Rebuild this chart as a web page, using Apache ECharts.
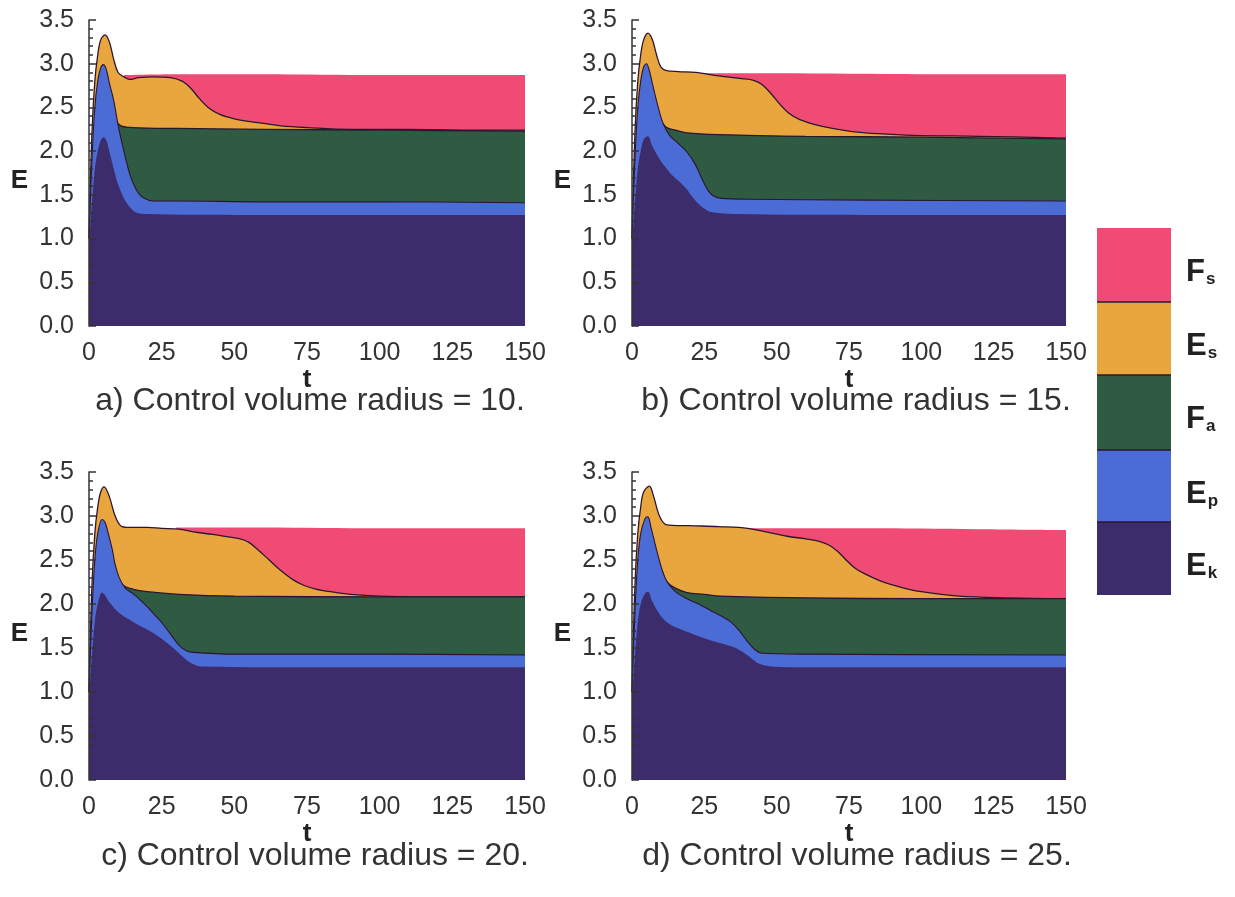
<!DOCTYPE html>
<html>
<head>
<meta charset="utf-8">
<script src="https://cdn.jsdelivr.net/npm/echarts@6/dist/echarts.min.js"></script>
<style>html,body{margin:0;padding:0;background:#fff}#c{width:1235px;height:897px}</style>
</head>
<body>
<div id="c"></div>
<script>
// Cumulative energy levels E(t) (top of each stacked band).
// Panel a) radius = 10
const a_Fs = [[12,2.87],[30,2.88],[60,2.88],[100,2.87],[150,2.87]];
const a_Es = [[0,1.0],[1,2.2],[2,2.8],[3,3.1],[4,3.27],[5.5,3.33],[7,3.25],[8.5,3.05],[10,2.9],[12,2.85],[14,2.82],[17,2.84],[22,2.85],[28,2.84],[32,2.8],[35,2.72],[38,2.6],[41,2.5],[45,2.42],[50,2.37],[57,2.33],[66,2.29],[75,2.27],[90,2.25],[110,2.25],[130,2.24],[150,2.24]];
const a_Fa = [[9,2.36],[11,2.29],[15,2.27],[30,2.26],[60,2.25],[100,2.24],[150,2.23]];
const a_Ep = [[0,1.0],[1,1.9],[2,2.5],[3,2.8],[4,2.95],[5,2.99],[6,2.93],[7,2.78],[8.5,2.58],[10,2.3],[12,2.0],[14,1.74],[15.5,1.61],[17,1.52],[19,1.46],[22,1.43],[30,1.43],[60,1.42],[100,1.42],[150,1.41]];
const a_Ek = [[0,0.9],[1,1.4],[2,1.8],[3,2.0],[4,2.12],[5,2.16],[6,2.12],[7,2.0],[8.5,1.8],[10,1.62],[12,1.46],[14,1.36],[16,1.3],[20,1.28],[50,1.27],[150,1.27]];
// Panel b) radius = 15
const b_Fs = [[22,2.89],[50,2.89],[100,2.88],[150,2.88]];
const b_Es = [[0,1.0],[1,2.2],[2,2.8],[3,3.1],[4,3.27],[5.5,3.35],[7,3.28],[8.5,3.1],[10,2.96],[12,2.92],[16,2.91],[22,2.9],[30,2.86],[38,2.83],[42,2.81],[45,2.76],[48,2.66],[51,2.54],[54,2.44],[58,2.36],[65,2.29],[75,2.23],[85,2.2],[97,2.18],[120,2.17],[150,2.15]];
const b_Fa = [[10,2.35],[12,2.27],[15,2.24],[19,2.21],[30,2.19],[60,2.17],[100,2.16],[150,2.14]];
const b_Ep = [[0,1.0],[1,1.9],[2,2.5],[3,2.8],[4,2.96],[5,3.0],[6,2.92],[7,2.78],[8.7,2.55],[10.7,2.32],[13,2.18],[15.6,2.1],[19,1.99],[22,1.84],[24.5,1.66],[26.5,1.54],[28.5,1.48],[31,1.46],[40,1.45],[80,1.44],[150,1.43]];
const b_Ek = [[0,0.9],[1,1.4],[2,1.8],[3,2.0],[4,2.13],[5.5,2.17],[7,2.06],[9.7,1.9],[12,1.8],[14,1.72],[17,1.63],[19,1.56],[21,1.47],[23.5,1.38],[26,1.32],[28,1.3],[35,1.28],[80,1.27],[150,1.27]];
// Panel c) radius = 20
const c_Fs = [[30,2.87],[60,2.87],[100,2.86],[150,2.86]];
const c_Es = [[0,1.0],[1,2.2],[2,2.8],[3,3.1],[4,3.27],[5.2,3.33],[7,3.22],[9,3.0],[11.4,2.88],[15,2.87],[20,2.87],[25,2.86],[31,2.85],[36,2.82],[42.6,2.79],[52,2.74],[55,2.7],[58,2.62],[62,2.5],[66,2.38],[70,2.28],[74,2.21],[78,2.17],[83,2.14],[90,2.11],[100,2.09],[120,2.08],[150,2.08]];
const c_Fa = [[10,2.3],[11.4,2.22],[15,2.17],[20,2.14],[31,2.11],[50,2.09],[100,2.08],[150,2.08]];
const c_Ep = [[0,1.0],[1,1.9],[2,2.5],[3,2.8],[4.5,2.96],[5.5,2.93],[6.5,2.82],[8,2.62],[9,2.45],[10.4,2.3],[12.5,2.18],[15,2.12],[17.5,2.05],[20,1.97],[22.5,1.88],[25,1.79],[28,1.66],[31,1.53],[33.5,1.47],[36,1.45],[50,1.43],[100,1.43],[150,1.42]];
const c_Ek = [[0,0.9],[1,1.4],[2,1.8],[3,2.0],[4.5,2.13],[5.5,2.1],[7,2.02],[10,1.91],[14,1.82],[17,1.76],[20,1.71],[23,1.65],[26,1.58],[29,1.5],[32,1.41],[35,1.33],[39,1.29],[80,1.28],[150,1.28]];
// Panel d) radius = 25
const d_Fs = [[38,2.86],[80,2.86],[120,2.85],[150,2.84]];
const d_Es = [[0,1.0],[1,2.2],[2,2.8],[3,3.1],[4,3.27],[6,3.34],[7.5,3.22],[9.5,3.0],[12,2.9],[20,2.89],[30,2.88],[40,2.86],[53.6,2.77],[60,2.74],[65,2.71],[68,2.67],[71,2.6],[74,2.5],[77,2.41],[80,2.35],[86,2.26],[93,2.19],[100,2.14],[113,2.09],[130,2.07],[150,2.06]];
const d_Fa = [[10,2.35],[12,2.25],[15,2.18],[19,2.13],[25,2.11],[30.5,2.09],[60,2.07],[100,2.06],[150,2.06]];
const d_Ep = [[0,1.0],[1,1.9],[2,2.5],[3,2.8],[4.5,2.97],[5.5,2.99],[6.5,2.88],[8.7,2.59],[10.5,2.38],[12,2.26],[15,2.14],[19,2.06],[23,2.0],[27,1.93],[31,1.86],[34,1.8],[37,1.7],[40,1.57],[42.5,1.48],[45,1.44],[60,1.43],[150,1.42]];
const d_Ek = [[0,0.9],[1,1.4],[2,1.8],[3,2.0],[4.5,2.12],[5.5,2.14],[7,2.03],[10,1.86],[13,1.77],[17,1.71],[21,1.66],[26,1.6],[31,1.55],[35,1.51],[38,1.46],[41,1.39],[44,1.32],[48,1.29],[60,1.28],[150,1.28]];

const components = ['Fs','Es','Fa','Ep','Ek'];
const captions = ['a) Control volume radius = 10.','b) Control volume radius = 15.','c) Control volume radius = 20.','d) Control volume radius = 25.'];

const panelData = [
  {Fs:a_Fs,Es:a_Es,Fa:a_Fa,Ep:a_Ep,Ek:a_Ek},
  {Fs:b_Fs,Es:b_Es,Fa:b_Fa,Ep:b_Ep,Ek:b_Ek},
  {Fs:c_Fs,Es:c_Es,Fa:c_Fa,Ep:c_Ep,Ek:c_Ek},
  {Fs:d_Fs,Es:d_Es,Fa:d_Fa,Ep:d_Ep,Ek:d_Ek}
];

const colors = {Fs:'#ef4b75', Es:'#eaa63e', Fa:'#2f5b42', Ep:'#4b6bd5', Ek:'#3d2c6b'};
const edgeW = {Fs:0, Es:1.3, Fa:1.3, Ep:1.1, Ek:0};
const edgeColor = '#2b1632';
const FONT = '"Liberation Sans", Arial, sans-serif';

const grids = [
  {left:89, top:20, width:436, height:306},
  {left:632, top:20, width:434, height:306},
  {left:89, top:472, width:436, height:308},
  {left:632, top:472, width:434, height:308}
];
const captionPos = [[310,401],[856,401],[315,856],[857,856]];

const xAxes = [], yAxes = [], series = [], graphics = [];
grids.forEach((g, i) => {
  xAxes.push({
    type:'value', gridIndex:i, min:0, max:150, interval:25,
    name:'t', nameLocation:'middle', nameGap:31,
    nameTextStyle:{fontFamily:FONT, fontSize:26, fontWeight:'bold', color:'#222'},
    axisLine:{show:false}, axisTick:{show:false}, splitLine:{show:false},
    axisLabel:{fontFamily:FONT, fontSize:25, color:'#333', margin:15}
  });
  yAxes.push({
    type:'value', gridIndex:i, min:0, max:3.5, interval:0.5, z:10,
    name:'E', nameLocation:'middle', nameGap:61, nameRotate:0,
    nameTextStyle:{fontFamily:FONT, fontSize:26, fontWeight:'bold', color:'#222', verticalAlign:'top', lineHeight:16},
    axisLine:{show:true, lineStyle:{color:'#333', width:1.5}},
    axisTick:{show:true, inside:true, length:7, lineStyle:{color:'#333', width:1.5}},
    minorTick:{show:true, splitNumber:5, length:4, lineStyle:{color:'#333', width:1.5}},
    splitLine:{show:false},
    axisLabel:{fontFamily:FONT, fontSize:25, color:'#333', margin:15, formatter:v=>v.toFixed(1)}
  });
  components.forEach((k, j) => {
    series.push({
      type:'line', name:k, xAxisIndex:i, yAxisIndex:i,
      data: panelData[i][k],
      smooth:0.35, showSymbol:false, symbol:'none',
      lineStyle:{width:edgeW[k], color:edgeColor},
      areaStyle:{color:colors[k], opacity:1},
      z: 2 + j, silent:true, animation:false
    });
  });
  graphics.push({
    type:'text', x:captionPos[i][0], y:captionPos[i][1],
    style:{text:captions[i], fontFamily:FONT, fontSize:32, fill:'#333', align:'center', verticalAlign:'middle'}
  });
});

// legend column
const legTop = [228,302,375,450,522];
const legBot = [302,375,450,522,595];
const legLabel = {Fs:['F','s'], Es:['E','s'], Fa:['F','a'], Ep:['E','p'], Ek:['E','k']};
components.forEach((k, j) => {
  graphics.push({type:'rect', shape:{x:1097, y:legTop[j], width:74, height:legBot[j]-legTop[j]},
    style:{fill:colors[k], stroke:null}});
  if (j > 0) graphics.push({type:'line', shape:{x1:1097, y1:legTop[j], x2:1171, y2:legTop[j]}, style:{stroke:edgeColor, lineWidth:1.5}});
  graphics.push({type:'text', x:1186, y:legTop[j] + 22,
    style:{text:'{b|' + legLabel[k][0] + '}{s|' + legLabel[k][1] + '}',
      rich:{
        b:{fontFamily:FONT, fontSize:31, fontWeight:'bold', fill:'#222', lineHeight:38, verticalAlign:'bottom'},
        s:{fontFamily:FONT, fontSize:17, fontWeight:'bold', fill:'#222', lineHeight:22, verticalAlign:'bottom', padding:[0,0,0,1]}
      }, align:'left', verticalAlign:'top'}});
});

const chart = echarts.init(document.getElementById('c'), null, {renderer:'canvas'});
chart.setOption({
  backgroundColor:'#ffffff',
  animation:false,
  grid: grids,
  xAxis: xAxes,
  yAxis: yAxes,
  series: series,
  graphic: graphics
});
</script>
</body>
</html>
